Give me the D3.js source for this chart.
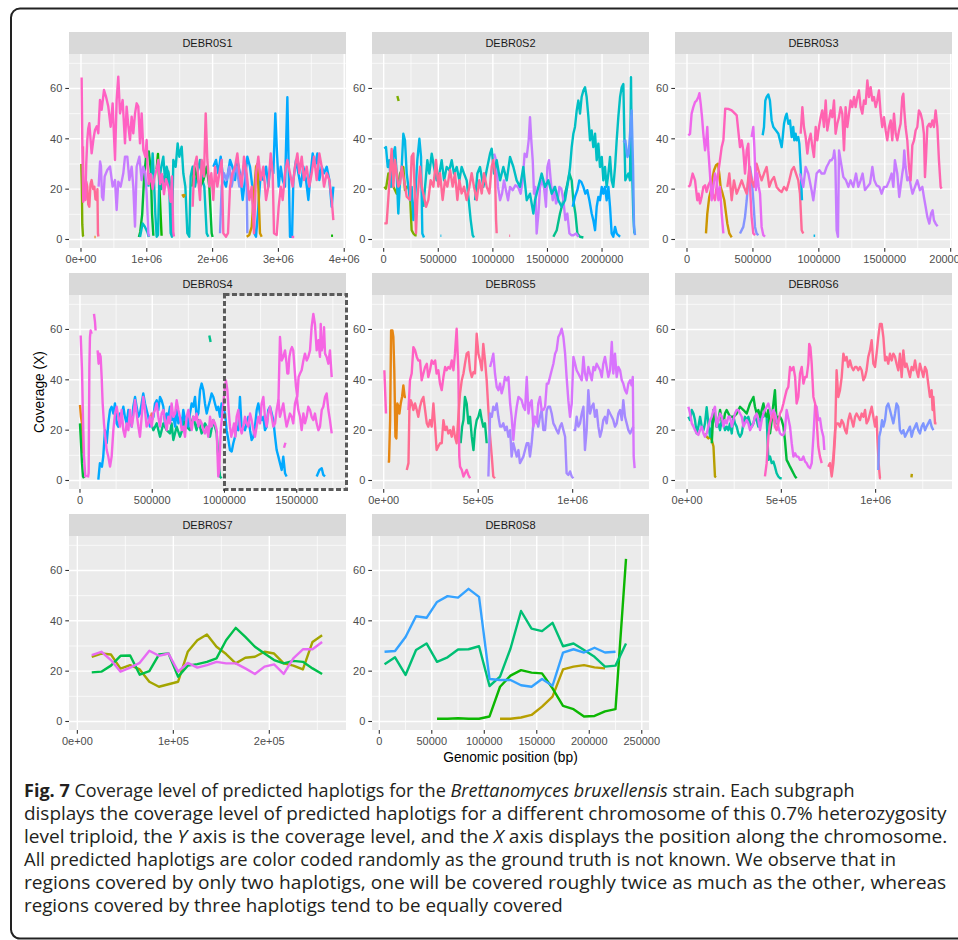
<!DOCTYPE html>
<html>
<head>
<meta charset="utf-8">
<script src="https://cdn.jsdelivr.net/npm/d3@7"></script>
<style>
  body { margin: 0; background: #fff; }
  svg { display: block; }
</style>
</head>
<body>
<svg id="fig" width="958" height="940"></svg>
<script>
// Positions are stored in kb, coverage in X.

// ---------- DEBR0S1 ----------
const s1Olive = [[5,30],[12,22],[20,6],[30,1.5],[40,1.2]];
const s1PinkHigh = [[10,64.4],[22,35],[35,15],[50,17],[66,16],[80,30],[96,39.5],[110,44],[127,46.2],[145,40],[162,34.2],[190,40],[213,43.5],[240,45],[263,42.2],[289,55.4],[314,51.5],[350,59.4],[380,56.8],[415,52.8],[451,44.8],[481,54.1],[517,31.6],[542,55.4],[567,64.7],[593,50.1],[633,55.4],[669,38.2],[694,52.8],[720,45],[745,39.5],[770,48.8],[795,42.2],[821,50],[846,54.1],[871,52.8],[897,38.2],[922,50.1],[947,35.6],[978,32.9],[998,39.5],[1010,30],[1030,22],[1059,26],[1089,20],[1120,25],[1150,28],[1175,31.6],[1201,22],[1231,26],[1261,18],[1292,24],[1327,21],[1363,15],[1383,25],[1403,3],[1413,1.2]];
const s1HotPink = [[30,37],[35,26],[50,18],[66,15.7],[80,23],[96,21],[110,14],[127,13],[145,22],[162,23.6],[185,20],[203,21],[220,16],[238,15.7],[250,20],[258,2.4],[265,1.2]];
const s1Purple = [[268,21],[290,31],[304,29],[320,17],[339,15.7],[360,25],[400,27.6],[441,29],[481,21],[517,23.6],[542,11.7],[567,23],[603,21],[643,26.3],[669,32.9],[704,32.9],[735,23.6],[770,28.9],[795,21],[821,5.1],[846,28.9],[887,32.9],[922,23.6],[947,28.9],[978,26.3],[998,18.3],[1023,2.5],[1035,1.2]];
const s1Green = [[880,1],[900,3],[930,10],[960,25],[990,33],[1030,35],[1060,28],[1080,10],[1100,1.5]];
const s1Lime = [[1150,28],[1170,34],[1190,22],[1210,10],[1225,1.5]];
const s1Green2 = [[1697,21],[1722,28.9],[1758,25],[1809,21],[1859,23.6],[1910,28.9],[1950,21],[1986,2.5],[2000,1]];
const s1TealLow = [[897,1],[937,6.4],[973,5],[1008,3],[1030,1]];
const s1Teal = [[1023,21],[1049,26],[1074,26.3],[1089,34.2],[1109,23.6],[1130,10],[1150,1.1],[1170,1.8],[1190,23.6],[1221,28.9],[1251,32.9],[1277,23.6],[1302,28.9],[1337,25],[1363,2.5],[1383,1.1],[1403,31.6],[1439,28.9],[1469,38.2],[1494,32.9],[1530,36.9],[1555,26.3],[1586,21],[1616,2.5],[1646,1.1],[1667,25],[1697,28.9],[1733,21],[1768,26.3],[1809,31.6],[1844,23.6],[1874,21],[1910,2.5],[1935,1.1]];
const s1Turq = [[1190,26],[1221,20],[1251,25],[1292,22],[1327,27],[1363,20],[1393,1.5]];
const s1PinkLong = [[1697,13],[1722,28.9],[1758,32.9],[1783,23.6],[1809,15.7],[1834,31.6],[1869,25],[1895,50.1],[1920,31.6],[1950,21],[1981,26.3],[2011,15.7],[2037,28.9],[2072,21],[2102,26.3],[2138,31.6],[2163,2.5],[2204,1.1],[2234,2.5],[2265,21],[2300,26.3],[2341,28.9],[2376,34.2],[2406,26.3],[2442,21],[2477,32.9],[2518,26.3],[2558,15.7],[2594,21],[2629,2.5],[2660,26.3],[2695,32.9],[2731,23.6],[2771,28.9],[2812,15.7],[2847,21],[2883,34.2],[2913,26.3],[2933,2.5],[2974,1.8],[3004,13],[3035,21],[3065,15.7],[3100,26.3],[3136,31.6],[3176,26.3],[3217,21],[3252,28.9],[3288,34.2],[3318,26.3],[3354,32.9],[3389,23.6],[3430,28.9],[3470,21],[3506,26.3],[3541,32.9],[3582,23.6],[3622,34.2],[3658,28.9],[3693,21],[3734,26.3],[3774,23.6],[3810,15.7],[3835,7.7]];
const s1Blue = [[2011,28.9],[2052,31.6],[2087,26.3],[2123,32.9],[2163,23.6],[2204,21],[2234,26.3],[2265,31.6],[2300,28.9],[2341,23.6],[2376,31.6],[2416,26.3],[2457,15.7],[2492,23.6],[2528,32.9],[2568,28.9],[2604,21],[2634,2.5],[2660,1.1],[2695,13],[2731,26.3],[2771,23.6],[2812,28.9],[2847,21],[2883,31.6],[2923,26.3],[2953,50.1],[2974,36.9],[3004,21],[3035,28.9],[3065,23.6],[3100,21],[3136,56.5],[3156,28.9],[3176,1.1],[3207,1.1],[3227,23.6],[3268,31.6],[3303,26.3],[3338,21],[3379,28.9],[3420,23.6],[3455,15.7],[3490,26.3],[3521,34.2],[3556,28.9],[3592,34.2],[3622,23.6],[3658,28.9],[3693,26.3],[3734,28.9],[3774,23.6],[3810,13],[3835,21]];
const s1Peri = [[2113,2.5],[2138,21],[2173,26.3],[2214,23.6],[2254,28.9],[2290,21],[2325,26.3],[2366,28.9],[2406,21],[2442,25],[2477,28.9],[2518,21],[2528,2.5]];
const s1Gold = [[2518,1.1],[2558,1.8],[2594,5],[2629,18.3],[2660,28.9],[2680,30],[2695,21],[2720,2.5],[2746,1.1]];
const s1GoldBit = [[1540,18],[1560,17],[1580,18]];
const s1OrangeBit = [[205,1],[222,1]];
const s1PinkBit = [[3200,1],[3240,1]];
const s1LimeBit = [[3800,1.5],[3830,1.5]];

// ---------- DEBR0S2 ----------
const s2Olive = [[6,21],[21,20.2],[43,26.2],[58,23.5],[89,21],[119,18.2],[150,26.2],[180,28.8],[195,19.6],[211,21],[226,21],[241,18.2],[256,3.7],[272,2.4],[287,1.7],[302,1.7]];
const s2OliveBit = [[125,57],[137,55]];
const s2HotPink = [[6,6.4],[27,6.4],[58,26.3],[73,36],[89,21],[104,31.6],[119,26.3],[134,21],[150,22.3],[165,28.9],[180,25],[211,17],[241,15.7],[256,32.9],[272,34.2],[287,15.7],[296,2.5],[308,15.7],[333,28.9],[348,21],[363,18.3],[388,13],[409,15.7],[430,23.6],[455,21],[479,31.6],[501,21],[516,26.3],[540,15.7],[562,23.6],[583,21],[608,27.6],[632,21],[653,26.3],[675,15.7],[693,23.6],[714,18.3],[736,21],[760,15.7],[785,21],[806,26.3],[827,21],[852,15.7],[876,23.6],[898,18.3],[919,26.3],[943,21],[968,18.3],[989,28.9],[1004,31.6],[1020,26.3],[1029,8],[1035,2.5]];
const s2CyanA = [[6,36.1],[21,36.7],[37,28.8],[52,31.5],[67,20.9],[89,34.1],[104,36.7],[119,26.2],[134,10.3],[150,23.5],[165,28.8],[180,42],[195,39.4],[211,26.2],[226,20.9],[241,15.6],[256,20.9],[272,7.7],[287,15.6],[308,31.5],[327,40],[342,32.8],[354,2.4],[369,0.8]];
const s2CyanB = [[363,13],[379,20.9],[400,31.5],[418,26.2],[440,34.1],[461,28.8],[485,23.5],[510,26.2],[531,31.5],[553,23.5],[577,28.8],[601,27.5],[623,31.5],[644,26.2],[669,28.8],[693,23.5],[714,28.8],[736,26.2],[760,23.5],[779,15.6],[797,7.7],[815,1.7],[827,0.8]];
const s2Teal = [[837,15.6],[858,26.2],[882,28.8],[913,20.9],[943,27.5],[974,34.1],[989,36.1],[1011,26.2],[1035,31.5],[1066,23.5],[1096,28.8],[1127,23.5],[1157,32.8],[1188,28.8],[1218,23.5],[1249,20.9],[1279,28.8],[1310,15.6],[1340,18.2],[1371,10.3],[1386,15.6],[1417,20.9],[1447,26.2],[1478,20.9],[1508,23.5],[1539,18.2],[1569,20.9],[1600,15.6],[1630,13],[1661,15.6],[1691,23.5],[1707,28.8],[1722,36.7],[1737,42],[1752,44.7],[1768,51.3],[1783,55.2],[1798,50],[1813,56.6],[1829,59.2],[1844,60.5],[1859,56.6],[1875,48.6],[1890,39.4],[1905,43.3],[1920,36.7],[1936,42],[1951,31.5],[1966,38.1],[1981,28.8],[1997,32.8],[2012,23.5],[2027,28.8],[2042,20.9],[2058,26.2],[2073,32.8],[2088,23.5],[2103,20.9],[2119,28.8],[2134,39.4],[2149,48.6],[2165,56.6],[2180,60.5],[2195,61.8],[2204,42],[2213,23.5],[2226,24.8],[2241,26.2],[2256,23.5],[2265,64.5],[2274,28.8],[2287,9],[2296,2.4]];
const s2Blue = [[1731,13],[1752,16.9],[1774,19.6],[1792,23.5],[1810,22.9],[1829,20.9],[1847,18.2],[1865,19.6],[1884,15.6],[1905,10.3],[1920,7.7],[1936,3.7],[1951,13],[1966,16.9],[1981,15.6],[1997,20.9],[2012,18.2],[2027,20.9],[2042,15.6],[2058,20.9],[2073,13],[2088,2.4],[2103,1.1],[2119,5],[2134,2.4],[2149,1.7],[2165,1.1]];
const s2LightBlue = [[2195,38.7],[2213,39.4],[2232,32.8],[2244,34.1],[2256,42],[2271,51.3],[2284,28.8],[2293,5],[2302,1.7]];
const s2Purple = [[1011,34.1],[1029,31.5],[1047,20.9],[1066,15.6],[1084,18.2],[1102,23.5],[1120,19.6],[1139,15.6],[1157,20.9],[1182,19.6],[1206,21.5],[1230,20.9],[1255,18.2],[1273,23.5],[1291,34.1],[1310,32.8],[1328,39.4],[1340,48.6],[1352,39.4],[1365,31.5],[1377,18.2],[1389,20.9],[1401,2.4],[1417,10.3],[1432,20.9],[1450,23.5],[1468,20.9],[1487,13],[1499,28.8],[1514,31.5],[1530,23.5],[1548,15.6],[1563,20.9],[1578,14.3],[1594,15.6],[1609,20.9],[1627,20.2],[1646,15.6],[1664,7.7],[1682,10.3],[1701,2.4],[1719,1.7],[1737,1.7],[1762,2.4],[1783,1.1]];
const s2Green = [[1554,1.1],[1585,3.7],[1615,10.3],[1646,15.6],[1676,20.9],[1701,26.2],[1722,23.5],[1737,15.6],[1756,10.3],[1774,2.4],[1798,1.1],[1829,0.8]];
const s2CyanBit = [[520,1.5],[528,1.5]];
const s2PinkBit = [[1150,1.5],[1158,1.5]];

// ---------- DEBR0S3 ----------
const s3MagentaL = [[10,41.4],[23,42],[35,50],[48,52.6],[61,54.6],[73,55.2],[86,56.6],[94,58.1],[104,53.9],[114,48.6],[124,42],[137,35.4],[144,38.1],[154,44.7],[162,35.4],[174,26.2],[187,15.6],[200,20.9],[212,26.2],[225,23.5],[238,15.6],[250,20.9],[263,10.3],[276,2.4]];
const s3PinkLow = [[10,20.9],[23,21.5],[43,26.2],[61,23.5],[78,15.6],[88,18.2],[99,14.3],[111,16.9],[124,20.9],[137,21.5],[149,18.9],[162,21.5],[180,23.5],[195,18.2],[212,15.6],[230,23.5],[250,31.5],[263,36.7],[276,39.4],[290,52],[313,51.9],[339,51.3],[364,50],[377,49.3],[389,43.3],[402,36.7],[415,39.4],[427,35.4],[440,26.2],[453,35.4],[465,38.1],[478,20.9],[490,9],[503,2.4],[516,1.7]];
const s3PinkMid = [[306,20.9],[321,26.2],[339,15.6],[356,23.5],[377,18.2],[397,20.9],[415,23.5],[432,20.9],[453,18.2],[473,28.8],[490,23.5],[508,20.9],[528,30.1],[549,26.2],[566,23.5],[584,26.2],[604,28.8],[624,20.9],[642,23.5],[660,24.8],[680,20.9],[700,19.6],[718,18.9],[736,20.9],[756,19.6],[776,23.5],[794,27.5],[811,28.8],[827,26.2],[844,23.5],[857,18.2],[870,3.7],[882,2.4]];
const s3PinkBig = [[862,42],[875,52.6],[887,44.7],[900,40.7],[913,34.1],[925,39.4],[938,42],[951,36.7],[963,32.8],[976,44.7],[988,39.4],[1001,44.7],[1014,48.6],[1026,51.3],[1039,44.7],[1052,55.2],[1064,43.3],[1077,47.3],[1090,51.3],[1102,48.6],[1115,55.2],[1127,42],[1140,46],[1153,48.6],[1165,52.6],[1178,50],[1191,35.4],[1203,52.6],[1216,44.7],[1229,50],[1241,55.2],[1254,52.6],[1267,56.6],[1279,52.6],[1292,56.6],[1304,59.2],[1317,52.6],[1330,50],[1342,55.2],[1355,53.9],[1368,63.2],[1380,56.6],[1393,60.5],[1406,55.2],[1418,56.6],[1431,52.6],[1443,55.2],[1456,59.2],[1469,50],[1481,44.7],[1494,48.6],[1507,43.3],[1519,39.4],[1532,44.7],[1545,47.3],[1557,39.4],[1570,50],[1583,42],[1595,39.4],[1608,43.3],[1620,46],[1633,56.6],[1641,57.9],[1648,51.3],[1658,44.7],[1671,39.4],[1684,28.8],[1696,23.5],[1709,37.4],[1722,39.4],[1734,43.3],[1747,44.7],[1759,51.3],[1772,50],[1785,47.3],[1797,42],[1805,24.8],[1813,32.8],[1823,44.7],[1838,46],[1848,44.7],[1861,47.3],[1873,44.7],[1886,51.3],[1899,44.7],[1911,31.5],[1924,20.9],[1931,20.2]];
const s3Purple = [[857,26.2],[882,20.9],[900,28.8],[920,26.2],[945,19.6],[958,15.6],[971,20.9],[983,26.2],[1004,27.5],[1021,26.2],[1042,26.2],[1059,28.8],[1072,30.1],[1085,31.5],[1097,31.5],[1110,32.8],[1117,35.4],[1125,31.5],[1135,3.7],[1145,1.1],[1153,35.4],[1165,31.5],[1186,24.8],[1206,23.5],[1224,20.9],[1241,23.5],[1261,20.9],[1282,26.2],[1299,20.9],[1317,23.5],[1332,26.2],[1350,19.6],[1368,20.9],[1388,22.2],[1406,28.8],[1421,23.5],[1438,21.5],[1459,20.9],[1476,18.2],[1494,20.9],[1514,20.9],[1535,23.5],[1552,26.2],[1565,20.9],[1577,31.5],[1595,26.2],[1610,16.9],[1620,20.9],[1633,26.2],[1641,28.8],[1648,35.4],[1658,28.8],[1671,23.5],[1686,24.8],[1699,20.9],[1711,18.2],[1729,20.9],[1747,23.5],[1767,19.6],[1785,20.9],[1797,16.9],[1810,13],[1823,9],[1838,6.3],[1851,10.3],[1863,11.6],[1873,7.7],[1886,6.3],[1901,5.3]];
const s3Cyan = [[574,41.4],[584,44.7],[594,55.2],[604,56.6],[617,57.6],[629,55.2],[642,47.3],[655,44.7],[675,43.3],[693,42],[705,39.4],[718,36.7],[726,40.7],[736,46],[746,48.6],[756,50],[769,46],[781,47.3],[794,40.7],[806,44.7],[814,39.4],[824,42],[832,39.4],[844,40.7],[852,38.1],[862,28.8],[872,15.6]];
const s3CyanBit = [[960,1.5],[972,1.5]];
const s3Gold = [[144,2.4],[154,10.3],[169,16.9],[182,19.6],[195,24.8],[205,27.5],[220,29.5],[235,30.1],[245,26.2],[255,20.9],[270,18.2],[283,15.6],[296,10.3],[306,6.3],[321,2.4],[339,0.8]];
const s3Peri = [[402,2.4],[427,5],[440,9],[453,15.6],[465,23.5],[478,28.8],[490,24.8],[503,15.6],[516,5],[528,2.4],[541,1.7]];
const s3Magenta2 = [[490,40.7],[503,44.7],[511,36.7],[523,19.6],[533,26.2],[544,20.9],[554,18.2],[566,5],[579,1.7],[592,1.1]];

// ---------- DEBR0S4 ----------
const s4Orange = [[0,30],[7,25.3],[14,22.7],[21,10.8]];
const s4OrangeBit = [[125,1.5],[132,1.5]];
const s4Green = [[0,22.7],[7,14.8],[14,6.9],[21,1.6],[28,0.9]];
const s4PinkA = [[5,57.6],[14,43.8],[21,24],[28,9.5],[37,1.6],[46,2.2]];
const s4PinkB = [[55,1.2],[60,3],[65,45.1],[69,57],[74,59.6],[81,58.3]];
const s4PinkC = [[97,66.2],[104,63],[108,59.6]];
const s4PinkMain = [[122,51.7],[129,46.4],[136,50.4],[143,49.1],[150,41.1],[157,30.6],[166,22.7],[175,17.4],[185,12.1],[196,9.5],[208,5.5],[219,9.5],[231,20],[242,26.6],[254,29.3],[265,25.3],[277,21.4],[288,28],[300,20],[311,17.4],[323,22.7],[335,20],[346,28],[358,21.4],[369,25.3],[381,31.9],[392,26.6],[404,21.4],[415,17.4],[427,25.3],[438,33.2],[450,28],[461,21.4],[473,22.7],[484,25.3],[496,21.4],[508,26.6],[519,28],[531,30.6],[542,25.3],[554,21.4],[565,26.6],[577,28],[588,24],[600,20],[611,25.3],[623,22.7],[634,30.6],[646,25.3],[658,26.6],[669,31.9],[681,28],[692,25.3],[704,20],[715,21.4],[727,17.4],[738,25.3],[750,28],[761,24],[773,20],[784,25.3],[796,24],[807,26.6],[819,21.4],[831,24],[842,22.7],[854,20],[865,18.7],[877,21.4],[888,17.4],[900,25.3],[911,21.4],[923,24],[934,22.7],[946,20],[957,1.6],[964,4.2],[974,20],[983,25.3],[992,30.6],[1001,35.9],[1010,39.8],[1020,35.9],[1029,28],[1038,21.4],[1047,17.4],[1057,20],[1066,22.7],[1075,17.4],[1084,25.3],[1096,28],[1107,21.4],[1119,18.7],[1130,21.4],[1142,25.3],[1153,22.7],[1165,21.4],[1177,26.6],[1188,24],[1200,20],[1211,17.4],[1223,21.4],[1234,25.3],[1246,22.7],[1257,30.6],[1269,33.2],[1280,25.3],[1292,21.4],[1303,26.6],[1315,29.3],[1327,25.3],[1338,21.4],[1350,22.7],[1361,28],[1373,31.9],[1384,25.3],[1396,28],[1407,30.6],[1419,25.3],[1430,21.4],[1442,24],[1453,26.6],[1465,25.3],[1476,22.7],[1488,30.6],[1500,33.2],[1511,28],[1523,25.3],[1534,20],[1546,26.6],[1557,22.7],[1569,25.3],[1580,29.3],[1592,28],[1603,25.3],[1615,24],[1626,26.6],[1638,22.7],[1650,20],[1661,21.4],[1673,28],[1684,29.3],[1696,33.2],[1707,34.6],[1719,28],[1730,24],[1742,18.7]];
const s4PinkUpper = [[1373,30.6],[1384,57],[1396,47.7],[1407,49.1],[1419,51.7],[1430,46.4],[1435,42.5],[1442,42.5],[1449,49.1],[1458,51.7],[1467,53],[1476,51.7],[1486,43.8],[1495,37.2],[1504,33.2],[1513,41.1],[1523,42.5],[1534,43.8],[1546,47.7],[1557,50.4],[1569,47.7],[1580,49.1],[1592,51.7],[1603,60.9],[1615,66.2],[1626,62.2],[1638,51.7],[1650,55.7],[1661,49.1],[1666,62.2],[1673,51.7],[1684,54.3],[1689,60.9],[1696,50.4],[1707,49.1],[1719,46.4],[1730,51.7],[1742,41.1]];
const s4PinkBit = [[1412,13],[1422,15]];
const s4Blue = [[127,0.3],[138,6.9],[152,5.5],[161,9.5],[173,20],[185,14.8],[196,22.7],[208,28],[219,29.3],[231,26.6],[242,30.6],[254,22.7],[265,21.4],[277,26.6],[288,25.3],[300,29.3],[311,25.3],[323,22.7],[335,28],[346,25.3],[358,21.4],[369,29.3],[381,33.2],[392,29.3],[404,25.3],[415,26.6],[427,30.6],[438,34.6],[450,30.6],[461,28],[473,25.3],[484,21.4],[496,24],[508,25.3],[519,30.6],[531,31.9],[542,28],[554,33.2],[565,31.9],[577,29.3],[588,22.7],[600,26.6],[611,25.3],[623,29.3],[634,24],[646,25.3],[658,21.4],[669,28],[681,22.7],[692,25.3],[704,21.4],[715,28],[727,24],[738,25.3],[750,21.4],[761,26.6],[773,30.6],[784,29.3],[796,33.2],[807,25.3],[819,26.6],[831,35.9],[842,38.5],[854,35.9],[865,30.6],[877,26.6],[888,29.3],[900,31.9],[911,34.6],[923,33.2],[934,30.6],[946,28],[957,29.3],[969,25.3],[980,30.6],[1004,26.6],[1015,20],[1027,16.1],[1038,12.1],[1050,11.5],[1061,14.8],[1073,17.4],[1084,21.4],[1096,20],[1107,33.2],[1112,28],[1119,20],[1130,21.4],[1142,20],[1153,22.7],[1165,25.3],[1177,20],[1188,16.1],[1200,17.4],[1211,21.4],[1223,28],[1234,30.6],[1246,26.6],[1257,24],[1269,25.3],[1280,20],[1292,21.4],[1303,28],[1315,29.3],[1327,26.6],[1338,24],[1350,17.4],[1361,12.1],[1373,9.5],[1384,6.9],[1396,4.2],[1407,9.5],[1419,2.9],[1430,1.6]];
const s4BlueBit = [[1638,1.6],[1657,4.2],[1673,4.9],[1684,2.2],[1696,1.6]];
const s4Teal = [[484,25],[496,22],[508,20],[531,22.7],[554,17.4],[577,22.7],[600,20],[623,18.7],[634,22.7],[646,16.1],[669,21.4],[692,17.4],[715,21.4],[727,25.3],[738,21.4],[761,20],[784,25.3],[807,20],[819,24],[842,18.7],[865,22.7],[888,20],[900,17.4],[923,24],[946,18.7],[957,9.5],[969,1.6],[980,0.9]];
const s4GreenBit = [[895,57.6],[904,55]];
const s4Salmon = [[484,24],[496,26.6],[508,25.3]];
const s4HighlightStartKb = 1000;

// ---------- DEBR0S5 ----------
const s5PinkStart = [[3.5,43.8],[12,26.6]];
const s5Orange = [[21,7.5],[28,7.5],[34,24],[39,59.6],[46,59.6],[51,57],[56,43.8],[62,17.4],[67,16.7],[72,30.6],[78,29.3],[83,26.6],[90,30.6],[97,33.2],[104,37.8],[111,33.2],[118,33.2]];
const s5PinkHigh = [[131,28],[139,39.8],[148,42.5],[157,53],[166,51.7],[175,49.1],[183,47.7],[192,47.7],[201,39.8],[210,42.5],[219,45.1],[228,46.4],[236,41.1],[245,43.8],[254,47.7],[263,46.4],[272,47.7],[280,42.5],[289,43.8],[298,38.5],[307,35.9],[316,41.1],[325,45.1],[333,43.8],[342,45.1],[351,44.4],[360,47.7],[369,43.8],[377,50.4],[386,60.3],[395,43.8],[400,9.5],[404,5.5],[413,4.2],[422,1.6],[430,2.9],[439,4.2],[448,2.2],[457,0.9]];
const s5Salmon = [[122,4.2],[131,6.9],[136,28],[143,31.9],[150,30.6],[157,28],[166,30.6],[175,28],[183,25.3],[192,29.3],[201,31.9],[210,33.2],[219,28],[228,22.7],[236,21.4],[245,24],[254,21.4],[263,30.6],[272,21.4],[280,12.1],[289,13.5],[298,14.8],[307,14.8],[316,24],[325,20],[333,21.4],[342,18.7],[351,20],[360,17.4],[369,21.4],[377,17.4],[386,14.8],[395,25.3],[404,34.6],[413,39.8],[422,42.5],[430,46.4],[439,50.4],[448,51],[457,43.8],[466,41.1],[475,43.1],[483,42.5],[492,58.3],[501,50.4],[510,47.7],[519,43.8],[527,54.3],[536,47.7],[545,39.8],[554,28],[563,17.4],[572,9.5],[580,1.6],[589,0.9]];
const s5Green = [[407,14.8],[415,21.4],[422,24],[430,33.2],[439,30.6],[448,22.7],[457,25.3],[466,17.4],[475,12.1],[483,20],[492,24],[501,25.3],[510,28],[519,24],[527,21.4],[536,22.7],[545,14.8]];
const s5PurpleHigh = [[563,45.1],[572,47.7],[580,50.4],[589,42.5],[598,37.2],[607,35.9],[616,38.5],[624,34.6],[633,37.2],[642,41.1],[651,39.8],[660,41.1],[669,30.6],[677,25.3],[686,16.1],[695,24],[704,29.3],[713,33.2],[721,32.6],[730,31.9],[739,29.3],[748,28],[757,41.1],[766,26.6],[774,30.6],[783,31.9],[792,21.4],[801,25.3],[810,22.7],[818,30.6],[827,33.2],[836,28],[845,28],[854,29.3],[863,38.5],[871,38.5],[880,41.1],[889,43.8],[898,46.4],[907,50.4],[915,51.7],[924,57],[933,58.3],[942,60.3],[951,57],[960,50.4],[968,41.1],[977,31.9],[986,25.3],[995,30.6],[1004,49.1],[1013,46.4],[1021,43.8],[1030,42.5],[1039,41.1],[1048,39.8],[1057,49.1],[1065,42.5],[1074,39.8],[1083,45.1],[1092,42.5],[1101,39.8],[1110,45.1],[1118,43.8],[1127,46.4],[1136,45.1],[1145,43.8],[1154,41.1],[1162,46.4],[1171,49.1],[1180,45.1],[1189,41.1],[1198,43.8],[1207,55],[1215,42.5],[1224,50.4],[1233,41.1],[1242,45.1],[1251,43.8],[1260,39.8],[1268,38.5],[1277,35.9],[1286,34.6],[1295,38.5],[1304,39.8],[1312,37.8],[1318,41.1],[1323,9.5],[1328,4.9]];
const s5LavenderA = [[554,1.6],[563,26.6],[572,25.3],[580,29.3],[589,28],[598,30.6],[607,25.3],[616,21.4],[624,21.4],[633,22.7],[642,20],[651,21.4],[660,17.4],[669,20],[677,9.5],[686,14.8],[695,12.1],[704,9.5],[713,12.1],[721,6.9],[730,8.2],[739,9.5],[748,12.1],[757,14.8],[766,14.8],[774,9.5],[783,14.8],[792,22.7],[801,25.3],[810,24],[818,21.4],[827,25.3],[836,28],[845,20],[854,20],[863,28],[871,29.3],[880,29.3],[889,26.6],[898,22.7],[907,21.4],[915,20],[924,18.7],[933,21.4],[942,22.7],[951,20],[960,17.4],[968,2.9],[977,2.2],[986,3.6],[995,1.6],[1004,0.9]];
const s5LavenderB = [[1004,20],[1013,20],[1021,25.3],[1030,21.4],[1039,22.7],[1048,26.6],[1057,29.3],[1065,12.1],[1074,20],[1083,35.9],[1092,26.6],[1101,29.3],[1110,30.6],[1118,25.3],[1127,28],[1136,21.4],[1145,17.4],[1154,20],[1162,24],[1171,25.3],[1180,22.7],[1189,28],[1198,26.6],[1207,25.3],[1215,24],[1224,21.4],[1233,22.7],[1242,26.6],[1251,28],[1260,24],[1268,31.9],[1277,25.3],[1286,22.7],[1295,20],[1304,18.7],[1312,20],[1321,21.4]];

// ---------- DEBR0S6 ----------
const s6Teal = [[7,25.3],[16,24],[25,28],[34,26.6],[42,24],[51,18.7],[60,21.4],[69,25.3],[78,21.4],[87,20],[95,22.7],[104,29.1],[113,22.7],[122,17.4],[131,21.4],[140,28],[148,25.3],[157,21.4],[166,22.7],[175,20],[184,24],[193,22.7],[201,20],[210,21.4],[219,20],[228,22.7],[237,18.7],[246,25.3],[254,22.7],[263,21.4],[272,18.7],[281,17.4],[290,18.7],[299,22.7],[307,25.3],[316,24],[325,25.3],[334,22.7],[343,21.4],[352,22.7],[360,25.3],[369,24],[378,21.4],[387,24],[396,26.6],[405,25.3],[413,26.6],[422,25.3],[431,8.2],[440,9.5],[449,6.9],[458,7.5],[466,5.5],[475,2.9],[484,1.6],[493,0.9],[502,0.9]];
const s6Gold = [[95,18.7],[104,17.4],[113,16.7],[122,17.4],[131,16.1],[140,13.5],[148,1.6],[154,1.3]];
const s6GoldBit = [[1190,1.2],[1192,2.6]];
const s6Green = [[131,14.8],[140,28],[148,25.3],[157,21.4],[166,24],[175,28],[184,24],[193,22.7],[201,26.6],[210,28],[228,25.3],[246,25.3],[263,26.6],[281,29.3],[299,28],[316,26.6],[334,30.6],[343,31.9],[352,33.2],[360,29.3],[369,26.6],[378,28],[387,25.3],[396,28],[405,30.6],[413,26.6],[422,25.3],[431,28],[440,18.7],[449,24],[458,30.6],[466,35.9],[475,22.7],[484,25.3],[493,25.3],[502,24],[511,21.4],[519,16.1],[528,8.2],[537,6.9],[546,5.5],[555,4.2],[564,2.9],[573,1.6],[581,0.9]];
const s6Magenta = [[7,29.3],[16,26.6],[25,22.7],[34,21.4],[42,20],[51,18.7],[60,18.1],[69,20],[78,21.4],[87,18.7],[95,17.4],[104,18.7],[113,21.4],[122,24],[131,25.3],[140,28],[148,29.3],[157,21.4],[166,24],[175,26.6],[184,25.3],[193,21.4],[201,24],[210,22.7],[219,25.3],[228,25.3],[237,21.4],[246,24],[254,26.6],[263,28],[272,28],[281,26.6],[290,25.3],[299,21.4],[307,22.7],[316,24],[325,22.7],[334,20],[343,21.4],[352,22.7],[360,25.3],[369,26.6],[378,24],[387,20],[396,24],[405,26.6],[413,28],[422,29.3],[431,30.6],[440,28],[449,25.3],[458,28],[466,26.6],[475,24],[484,21.4],[493,18.7],[502,18.1],[511,18.1],[519,20],[528,28],[537,24.7],[546,21.4],[555,14.8],[564,9.5],[573,10.8],[581,9.5],[590,9.5],[599,8.2],[608,8.2],[617,9.5],[626,7.5],[634,6.9],[643,5.5],[652,4.9],[661,6.9],[670,17.4],[679,30],[687,29.3],[696,24],[705,24.7],[714,20],[723,17.4],[728,12.1]];
const s6PinkMid = [[413,1.6],[422,6.9],[431,17.4],[440,22.7],[449,25.3],[458,26.6],[466,21.4],[475,20],[484,22.7],[493,26.6],[502,28],[511,30.6],[519,33.2],[528,35.9],[537,37.2],[546,45.1],[555,43.8],[564,45.1],[573,41.1],[581,30.6],[590,33.2],[599,42.5],[608,45.1],[617,38.5],[626,41.1],[634,41.1],[643,46.4],[648,54.3],[654,53],[661,46.4],[670,33.2],[679,30.6],[687,24],[696,13.5],[705,9.5],[714,6.9]];
const s6SalmonHigh = [[749,5.5],[758,6.9],[767,1.6],[776,6.9],[785,17.4],[793,43.8],[802,33.2],[811,35.9],[820,41.1],[829,50.4],[838,47.7],[846,49.1],[855,45.1],[864,47.7],[873,45.1],[882,43.8],[891,45.1],[899,45.1],[908,43.8],[917,45.1],[926,43.8],[935,39.8],[944,41.1],[952,43.8],[961,49.1],[970,51.7],[979,55.7],[988,46.4],[997,45.1],[1005,50.4],[1014,57],[1023,62.2],[1032,62.2],[1041,57],[1050,47.7],[1058,49.1],[1067,46.4],[1076,50.4],[1085,47.7],[1094,50.4],[1103,49.1],[1111,46.4],[1120,43.8],[1129,50.4],[1138,41.1],[1147,51.7],[1156,45.1],[1164,46.4],[1173,43.8],[1182,41.1],[1191,45.1],[1200,43.8],[1209,47.7],[1217,43.8],[1226,41.1],[1235,46.4],[1244,43.8],[1253,41.1],[1262,45.1],[1270,43.8],[1279,38.5],[1288,33.2],[1297,35.9],[1302,28],[1306,33.2],[1315,22.7],[1323,22.7]];
const s6PinkLow = [[767,4.2],[776,9.5],[785,20],[793,22.7],[802,22.7],[811,21.4],[820,24],[829,22.7],[838,20],[846,18.7],[855,24],[864,26.6],[873,24],[882,21.4],[891,25.3],[899,26.6],[908,25.3],[917,24],[926,26.6],[935,25.3],[944,28],[952,22.7],[961,24],[970,26.6],[979,29.3],[988,25.3],[997,21.4],[1005,25.3],[1009,17.4],[1016,6.9],[1019,4.2],[1023,0.9],[1028,0.9]];
const s6Blue = [[1014,4.2],[1019,17.4],[1027,20],[1034,24],[1041,21.4],[1050,24],[1058,29.3],[1067,30.6],[1076,28],[1085,25.3],[1094,22.7],[1103,26.6],[1111,30.6],[1120,29.3],[1129,20],[1138,18.7],[1147,20],[1156,17.4],[1164,18.7],[1173,20],[1182,21.4],[1191,17.4],[1200,20],[1209,21.4],[1217,22.7],[1226,20],[1235,18.7],[1244,21.4],[1253,22.7],[1262,20],[1270,21.4],[1279,22.7],[1288,24],[1297,21.4],[1306,20]];

// ---------- DEBR0S7 (10 kb windows) ----------
const s7Pos = [15,25,35,45,55,65,75,85,95,105,115,125,135,145,155,165,175,185,195,205,215,225,235,245,255];
const s7Olive = [25.7,27,26.6,21,22.4,20.7,15.8,13.8,14.8,15.8,27.7,32.3,34.6,29.7,26.8,23.1,25.3,25.7,27.7,27,23.1,22.2,20.7,31.6,34.3];
const s7Green = [19.5,19.8,22.2,26.1,26.2,18.6,20,26.6,27,17.8,22.2,22.8,23.7,25.1,32.3,37.2,33.6,29.7,27,24.4,23.1,24.1,23.7,21.1,18.9];
const s7Magenta = [26.4,27.7,24.4,19.8,21.4,23.3,28.1,26.1,27,19.8,23.3,21.4,22.4,23.7,23.1,23.1,21.1,18.9,21.8,22.7,18.9,25.1,28.7,28.7,31.6];

// ---------- DEBR0S8 (10 kb windows) ----------
const s8BluePos = [5,15,25,35,45,55,65,75,85,95,105,115,125,135,145,155,165,175,185,195,205,215,225];
const s8Blue = [27.7,28,33.6,41.8,41.2,47.5,49.8,49.2,52.7,49.5,16.9,16.5,16.5,14.4,13.8,16.9,14.2,27.4,28.7,27.4,29.3,27.4,27.7];
const s8TealPos = [5,15,25,35,45,55,65,75,85,95,105,115,125,135,145,155,165,175,185,195,205,215,225,235];
const s8Teal = [22.7,25.5,18.5,28.4,31,23.7,25.5,28.6,28.7,29.9,14.1,17.8,29,43.9,36.9,35.9,39.2,29.9,31,28.4,25.7,21.8,22.2,31];
const s8GreenPos = [55,65,75,85,95,105,115,125,135,145,155,165,175,185,195,205,215,225,235];
const s8Green = [1.1,1.1,1.3,1.1,1.1,2,13.8,18.2,20.4,19.4,19.1,13.2,6.2,4.9,2,2.2,4,4.9,64.6];
const s8GoldPos = [115,125,135,145,155,165,175,185,195,205,215];
const s8Gold = [1.1,1.1,1.6,2.6,5.9,9.9,20.7,21.8,22.4,21.5,21.1];

const zipPos = (pos, vals) => pos.map((p, i) => [p, vals[i]]);

// ---------- axes ----------
const panelNames = ["DEBR0S1","DEBR0S2","DEBR0S3","DEBR0S4","DEBR0S5","DEBR0S6","DEBR0S7","DEBR0S8"];
const xDomainsKb = [[-182,4027],[-107,2430],[-91,2010],[-76,1841],[-62,1404],[-64,1405],[-8.7,279.9],[-6.95,256.9]];
const xTickValues = [
  [0,1e6,2e6,3e6,4e6],
  [0,5e5,1e6,1.5e6,2e6],
  [0,5e5,1e6,1.5e6,2e6],
  [0,5e5,1e6,1.5e6],
  [0,5e5,1e6],
  [0,5e5,1e6],
  [0,1e5,2e5],
  [0,5e4,1e5,1.5e5,2e5,2.5e5]
];
const xTickLabels = [
  ["0e+00","1e+06","2e+06","3e+06","4e+06"],
  ["0","500000","1000000","1500000","2000000"],
  ["0","500000","1000000","1500000","2000000"],
  ["0","500000","1000000","1500000"],
  ["0e+00","5e+05","1e+06"],
  ["0e+00","5e+05","1e+06"],
  ["0e+00","1e+05","2e+05"],
  ["0","50000","100000","150000","200000","250000"]
];
const yDomain = [-3.38, 73.7];
const yTicks = [0, 20, 40, 60];
const yTickLabels = ["0", "20", "40", "60"];
const yMinorTicks = [10, 30, 50, 70];

const panelSeries = [
  [
    {c:"#7CAE00", d:s1Olive}, {c:"#E68613", d:s1OrangeBit}, {c:"#00BA38", d:s1Green}, {c:"#0CB702", d:s1Lime},
    {c:"#00BFC4", d:s1TealLow}, {c:"#00C19A", d:s1Turq}, {c:"#00BFC4", d:s1Teal}, {c:"#00BA38", d:s1Green2},
    {c:"#CD9600", d:s1GoldBit}, {c:"#C77CFF", d:s1Purple}, {c:"#FF6A98", d:s1HotPink}, {c:"#FF61C3", d:s1PinkHigh},
    {c:"#00A9FF", d:s1Blue}, {c:"#8494FF", d:s1Peri}, {c:"#CD9600", d:s1Gold}, {c:"#FF65AE", d:s1PinkLong},
    {c:"#FF61C3", d:s1PinkBit}, {c:"#0CB702", d:s1LimeBit}
  ],
  [
    {c:"#7CAE00", d:s2Olive}, {c:"#7CAE00", d:s2OliveBit}, {c:"#00B8E7", d:s2CyanA}, {c:"#00BFC4", d:s2CyanB},
    {c:"#00C08B", d:s2Green}, {c:"#C77CFF", d:s2Purple}, {c:"#00BFC4", d:s2Teal}, {c:"#00A9FF", d:s2Blue},
    {c:"#619CFF", d:s2LightBlue}, {c:"#FF6A98", d:s2HotPink}, {c:"#00B8E7", d:s2CyanBit}, {c:"#FF6A98", d:s2PinkBit}
  ],
  [
    {c:"#CD9600", d:s3Gold}, {c:"#8494FF", d:s3Peri}, {c:"#FF6A98", d:s3PinkMid}, {c:"#FF62BC", d:s3PinkLow},
    {c:"#EF67EB", d:s3MagentaL}, {c:"#E76BF3", d:s3Magenta2}, {c:"#00B8E7", d:s3Cyan}, {c:"#00B8E7", d:s3CyanBit},
    {c:"#C77CFF", d:s3Purple}, {c:"#FF64B0", d:s3PinkBig}
  ],
  [
    {c:"#E68613", d:s4Orange}, {c:"#E68613", d:s4OrangeBit}, {c:"#00BA38", d:s4Green}, {c:"#F8766D", d:s4Salmon},
    {c:"#00BF7D", d:s4Teal}, {c:"#00C08B", d:s4GreenBit}, {c:"#00A9FF", d:s4Blue}, {c:"#00A9FF", d:s4BlueBit},
    {c:"#F564E3", d:s4PinkA}, {c:"#F564E3", d:s4PinkB}, {c:"#F564E3", d:s4PinkC}, {c:"#F564E3", d:s4PinkMain},
    {c:"#F564E3", d:s4PinkUpper}, {c:"#F564E3", d:s4PinkBit}
  ],
  [
    {c:"#FF61C3", d:s5PinkStart}, {c:"#E68613", d:s5Orange}, {c:"#00BF7D", d:s5Green}, {c:"#FF61C3", d:s5PinkHigh},
    {c:"#FF6C91", d:s5Salmon}, {c:"#A58AFF", d:s5LavenderA}, {c:"#A58AFF", d:s5LavenderB}, {c:"#D874FD", d:s5PurpleHigh}
  ],
  [
    {c:"#B79F00", d:s6Gold}, {c:"#B79F00", d:s6GoldBit}, {c:"#00C1A3", d:s6Teal}, {c:"#00BA38", d:s6Green},
    {c:"#E76BF3", d:s6Magenta}, {c:"#FF61C3", d:s6PinkMid}, {c:"#FF6C91", d:s6PinkLow}, {c:"#7F96FF", d:s6Blue},
    {c:"#FF6C91", d:s6SalmonHigh}
  ],
  [
    {c:"#A3A500", d:zipPos(s7Pos, s7Olive)}, {c:"#00BF4C", d:zipPos(s7Pos, s7Green)}, {c:"#E76BF3", d:zipPos(s7Pos, s7Magenta)}
  ],
  [
    {c:"#B79F00", d:zipPos(s8GoldPos, s8Gold)}, {c:"#0CB702", d:zipPos(s8GreenPos, s8Green)},
    {c:"#00BF74", d:zipPos(s8TealPos, s8Teal)}, {c:"#35A2FF", d:zipPos(s8BluePos, s8Blue)}
  ]
];

// ---------- caption ----------
const captionLines = [
  [["Fig. 7", "bold"], [" Coverage level of predicted haplotigs for the "], ["Brettanomyces bruxellensis", "italic"], [" strain. Each subgraph"]],
  [["displays the coverage level of predicted haplotigs for a different chromosome of this 0.7% heterozygosity"]],
  [["level triploid, the "], ["Y", "italic"], [" axis is the coverage level, and the "], ["X", "italic"], [" axis displays the position along the chromosome."]],
  [["All predicted haplotigs are color coded randomly as the ground truth is not known. We observe that in"]],
  [["regions covered by only two haplotigs, one will be covered roughly twice as much as the other, whereas"]],
  [["regions covered by three haplotigs tend to be equally covered"]]
];
const captionWidths = [831, 923, 924, 873, 923, 539];

// ---------- drawing ----------
const svg = d3.select("#fig");
const W = 958, H = 940;
const PANEL_W = 277, STRIP_H = 22, PANEL_H = 194;
const COL_X = [69, 372, 675], ROW_Y = [32, 273, 514];
const axisFont = "'Liberation Sans', Arial, Helvetica, sans-serif";

svg.append("rect").attr("width", W).attr("height", H).attr("fill", "#fff");

// outer frame with rounded left corners
svg.append("path")
  .attr("d", `M ${W} 8.5 H 20 A 9 9 0 0 0 11 17.5 V 929 A 9 9 0 0 0 20 938.5 H ${W}`)
  .attr("fill", "none").attr("stroke", "#222").attr("stroke-width", 2);

const defs = svg.append("defs");

panelNames.forEach((name, i) => {
  const col = i % 3, row = Math.floor(i / 3);
  const x0 = COL_X[col], sy = ROW_Y[row], py = sy + STRIP_H, pb = py + PANEL_H;
  const g = svg.append("g");

  const xs = d3.scaleLinear().domain(xDomainsKb[i].map(v => v * 1000)).range([x0, x0 + PANEL_W]);
  const ys = d3.scaleLinear().domain(yDomain).range([pb, py]);

  // strip
  g.append("rect").attr("x", x0).attr("y", sy).attr("width", PANEL_W).attr("height", STRIP_H).attr("fill", "#d9d9d9");
  g.append("text").attr("x", x0 + PANEL_W / 2).attr("y", sy + 15.2).attr("text-anchor", "middle")
    .attr("font-family", axisFont).attr("font-size", 11).attr("fill", "#1a1a1a").text(name);

  // panel background
  g.append("rect").attr("x", x0).attr("y", py).attr("width", PANEL_W).attr("height", PANEL_H).attr("fill", "#ebebeb");

  // minor grid
  const ticks = xTickValues[i];
  const step = ticks[1] - ticks[0];
  const dom = xs.domain();
  const minorX = [];
  for (let v = ticks[0] - step / 2; v <= dom[1]; v += step) if (v >= dom[0]) minorX.push(v);
  g.selectAll(null).data(minorX).enter().append("line")
    .attr("x1", d => xs(d)).attr("x2", d => xs(d)).attr("y1", py).attr("y2", pb)
    .attr("stroke", "#fff").attr("stroke-width", 0.7);
  g.selectAll(null).data(yMinorTicks).enter().append("line")
    .attr("x1", x0).attr("x2", x0 + PANEL_W).attr("y1", d => ys(d)).attr("y2", d => ys(d))
    .attr("stroke", "#fff").attr("stroke-width", 0.7);
  // major grid
  g.selectAll(null).data(ticks).enter().append("line")
    .attr("x1", d => xs(d)).attr("x2", d => xs(d)).attr("y1", py).attr("y2", pb)
    .attr("stroke", "#fff").attr("stroke-width", 1.4);
  g.selectAll(null).data(yTicks).enter().append("line")
    .attr("x1", x0).attr("x2", x0 + PANEL_W).attr("y1", d => ys(d)).attr("y2", d => ys(d))
    .attr("stroke", "#fff").attr("stroke-width", 1.4);

  // data lines
  const clipId = "clip" + i;
  defs.append("clipPath").attr("id", clipId).append("rect")
    .attr("x", x0).attr("y", py).attr("width", PANEL_W).attr("height", PANEL_H);
  const line = d3.line().x(d => xs(d[0] * 1000)).y(d => ys(d[1]));
  const lg = g.append("g").attr("clip-path", `url(#${clipId})`);
  panelSeries[i].forEach(s => {
    lg.append("path").attr("d", line(s.d)).attr("fill", "none")
      .attr("stroke", s.c).attr("stroke-width", 2.4).attr("stroke-linejoin", "round");
  });

  // highlighted region on DEBR0S4
  if (name === "DEBR0S4") {
    const hx = xs(s4HighlightStartKb * 1000);
    g.append("rect").attr("x", hx).attr("y", py - 0.5).attr("width", x0 + PANEL_W + 0.5 - hx).attr("height", PANEL_H + 1)
      .attr("fill", "none").attr("stroke", "#5a5a5a").attr("stroke-width", 3).attr("stroke-dasharray", "5,2.5");
  }

  // y axis
  yTicks.forEach((v, k) => {
    g.append("line").attr("x1", x0 - 3.7).attr("x2", x0).attr("y1", ys(v)).attr("y2", ys(v))
      .attr("stroke", "#333").attr("stroke-width", 1.1);
    g.append("text").attr("x", x0 - 6.7).attr("y", ys(v) + 3.9).attr("text-anchor", "end")
      .attr("font-family", axisFont).attr("font-size", 11).attr("fill", "#4d4d4d").text(yTickLabels[k]);
  });
  // x axis
  ticks.forEach((v, k) => {
    g.append("line").attr("x1", xs(v)).attr("x2", xs(v)).attr("y1", pb).attr("y2", pb + 3.7)
      .attr("stroke", "#333").attr("stroke-width", 1.1);
    g.append("text").attr("x", xs(v)).attr("y", pb + 15.2).attr("text-anchor", "middle")
      .attr("font-family", axisFont).attr("font-size", 11).attr("fill", "#4d4d4d").text(xTickLabels[i][k]);
  });
});

// axis titles
svg.append("text").attr("x", 510.5).attr("y", 762).attr("text-anchor", "middle")
  .attr("font-family", axisFont).attr("font-size", 13.75).attr("fill", "#000").text("Genomic position (bp)");
svg.append("text").attr("transform", "translate(44,392) rotate(-90)").attr("text-anchor", "middle")
  .attr("font-family", axisFont).attr("font-size", 13.75).attr("fill", "#000").text("Coverage (X)");

// caption, each line fitted to its measured width
const CAP_X = 24, CAP_Y0 = 797, CAP_DY = 22.9;
captionLines.forEach((parts, li) => {
  const t = svg.append("text").attr("x", 0).attr("y", 0)
    .attr("font-family", "'Open Sans', 'Noto Sans', sans-serif").attr("font-size", 18).attr("fill", "#231f20")
    .attr("xml:space", "preserve");
  parts.forEach(([txt, style]) => {
    const sp = t.append("tspan").text(txt);
    if (style === "bold") sp.attr("font-weight", "bold");
    if (style === "italic") sp.attr("font-style", "italic");
  });
  const w = t.node().getComputedTextLength();
  t.attr("transform", `translate(${CAP_X},${CAP_Y0 + li * CAP_DY}) scale(${captionWidths[li] / w},1)`);
});
</script>
</body>
</html>
